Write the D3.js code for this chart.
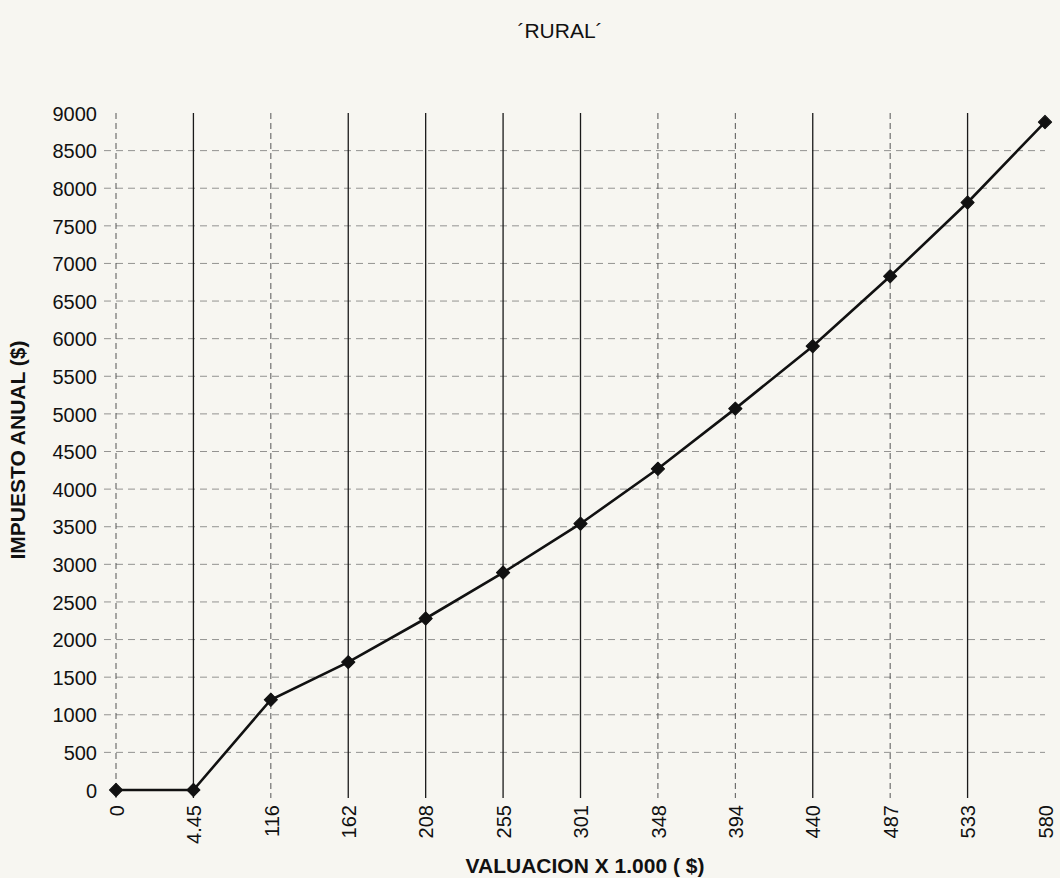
<!DOCTYPE html>
<html>
<head>
<meta charset="utf-8">
<script src="https://cdn.jsdelivr.net/npm/d3@7"></script>
<style>
  html, body { margin: 0; padding: 0; background: #f7f6f1; }
  svg { display: block; font-family: "Liberation Sans", Arial, sans-serif; }
  .grid-h line { stroke: #444; stroke-dasharray: 7 5; stroke-width: 1; opacity: 0.55; }
  .grid-v line { stroke: #1a1a1a; stroke-width: 1.3; }
  .grid-v line.faint { stroke: #555; stroke-dasharray: 6 4; stroke-width: 1; }
  .axis text { fill: #111; font-size: 20px; }
  .axis path, .axis line { display: none; }
</style>
</head>
<body>
<svg id="chart" width="1060" height="878"></svg>
<script>
// ------------------------------------------
//  Data
// ------------------------------------------
const valuacion = ["0", "4.45", "116", "162", "208", "255", "301", "348", "394", "440", "487", "533", "580"]
const impuesto = [0, 0, 1200, 1700, 2280, 2890, 3540, 4270, 5070, 5900, 6830, 7810, 8880]
const yTicks = d3.range(0, 9001, 500)

// ------------------------------------------
//  Chart
// ------------------------------------------
const svg = d3.select("#chart")
const margin = { top: 113, right: 15, bottom: 88, left: 116 }
const width = 1060, height = 878

const x = d3.scalePoint().domain(valuacion).range([margin.left, width - margin.right])
const y = d3.scaleLinear().domain([0, 9000]).range([height - margin.bottom, margin.top])

// faded vertical lines on the photocopy
const faint = new Set(["0", "116", "348", "394", "487"])

svg.append("g").attr("class", "grid-h")
    .selectAll("line")
    .data(yTicks.filter(d => d > 0 && d < 9000))
    .enter().append("line")
    .attr("x1", 104).attr("x2", x("580"))
    .attr("y1", d => y(d)).attr("y2", d => y(d))

svg.append("g").attr("class", "grid-v")
    .selectAll("line")
    .data(valuacion.slice(0, -1))
    .enter().append("line")
    .attr("class", d => faint.has(d) ? "faint" : null)
    .attr("x1", d => x(d)).attr("x2", d => x(d))
    .attr("y1", y(9000)).attr("y2", y(0) + 8)

svg.append("g").attr("class", "axis")
    .attr("transform", `translate(${margin.left - 19},0)`)
    .call(d3.axisLeft(y).tickValues(yTicks).tickFormat(d3.format("d")).tickSize(0).tickPadding(0))
    .selectAll("text").attr("dy", "0.36em")

svg.append("g").attr("class", "axis")
    .attr("transform", `translate(0,${y(0) + 15})`)
    .call(d3.axisBottom(x).tickSize(0).tickPadding(0))
    .selectAll("text")
    .attr("transform", "rotate(-90)")
    .attr("text-anchor", "end")
    .attr("x", 0).attr("y", 0).attr("dx", 0).attr("dy", "0.36em")

const pts = valuacion.map((v, i) => [v, impuesto[i]])

svg.append("path")
    .datum(pts)
    .attr("fill", "none")
    .attr("stroke", "#111")
    .attr("stroke-width", 2.6)
    .attr("d", d3.line().x(d => x(d[0])).y(d => y(d[1])))

svg.append("g").selectAll("path")
    .data(pts)
    .enter().append("path")
    .attr("d", d3.symbol().type(d3.symbolSquare).size(88))
    .attr("fill", "#111")
    .attr("stroke", "#111")
    .attr("stroke-width", 1)
    .attr("stroke-linejoin", "round")
    .attr("transform", d => `translate(${x(d[0])},${y(d[1])}) rotate(45)`)

// ------------------------------------------
//  Titles
// ------------------------------------------
svg.append("text")
    .attr("x", 560).attr("y", 38)
    .attr("text-anchor", "middle")
    .attr("font-size", 21)
    .attr("fill", "#111")
    .text("´RURAL´")

svg.append("text")
    .attr("transform", `translate(25,450) rotate(-90)`)
    .attr("text-anchor", "middle")
    .attr("font-size", 21)
    .attr("font-weight", "bold")
    .attr("fill", "#111")
    .text("IMPUESTO ANUAL ($)")

svg.append("text")
    .attr("x", 585).attr("y", 873)
    .attr("text-anchor", "middle")
    .attr("font-size", 21)
    .attr("font-weight", "bold")
    .attr("fill", "#111")
    .text("VALUACION X 1.000 ( $)")
</script>
</body>
</html>
